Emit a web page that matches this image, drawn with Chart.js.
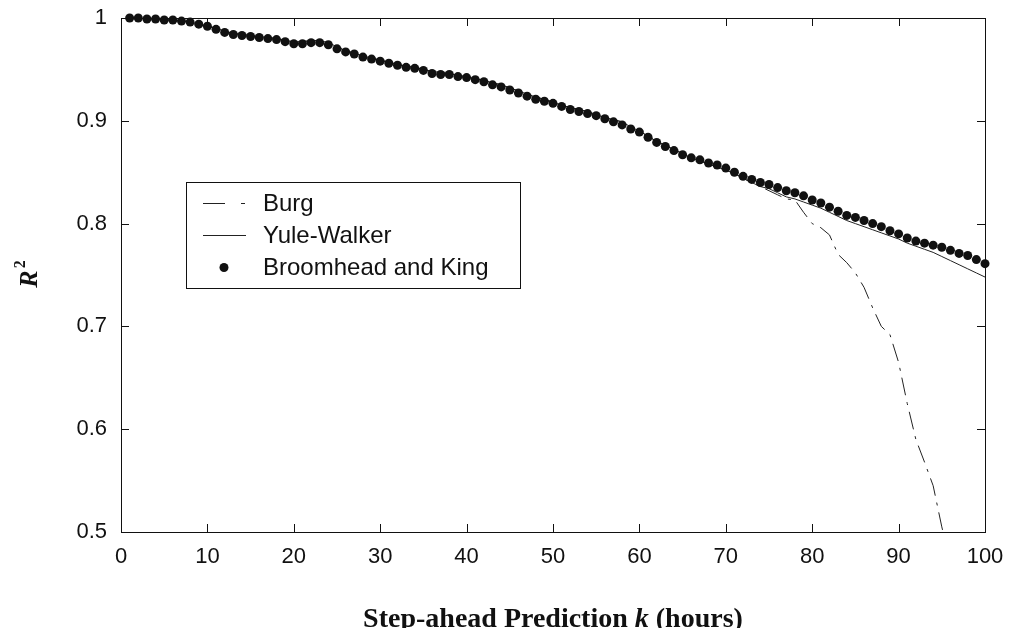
<!DOCTYPE html>
<html>
<head>
<meta charset="utf-8">
<script src="https://cdn.jsdelivr.net/npm/chart.js@4.4.0/dist/chart.umd.min.js"></script>
<style>
  html, body { margin: 0; padding: 0; background: #fff; }
  #wrap { width: 1013px; height: 628px; }
</style>
</head>
<body>
<div id="wrap"><canvas id="myChart" width="1013" height="628"></canvas></div>
<script>
// prediction step k (hours)
var steps = [
  1, 2, 3, 4, 5, 6, 7, 8, 9, 10,
  11, 12, 13, 14, 15, 16, 17, 18, 19, 20,
  21, 22, 23, 24, 25, 26, 27, 28, 29, 30,
  31, 32, 33, 34, 35, 36, 37, 38, 39, 40,
  41, 42, 43, 44, 45, 46, 47, 48, 49, 50,
  51, 52, 53, 54, 55, 56, 57, 58, 59, 60,
  61, 62, 63, 64, 65, 66, 67, 68, 69, 70,
  71, 72, 73, 74, 75, 76, 77, 78, 79, 80,
  81, 82, 83, 84, 85, 86, 87, 88, 89, 90,
  91, 92, 93, 94, 95, 96, 97, 98, 99, 100
];

// R^2 for the three estimators
var broomheadKing = [
  1.000, 1.000, 0.999, 0.999, 0.998, 0.998, 0.997, 0.996, 0.994, 0.992,
  0.989, 0.986, 0.984, 0.983, 0.982, 0.981, 0.980, 0.979, 0.977, 0.975,
  0.975, 0.976, 0.976, 0.974, 0.970, 0.967, 0.965, 0.962, 0.960, 0.958,
  0.956, 0.954, 0.952, 0.951, 0.949, 0.946, 0.945, 0.945, 0.943, 0.942,
  0.940, 0.938, 0.935, 0.933, 0.930, 0.927, 0.924, 0.921, 0.919, 0.917,
  0.914, 0.911, 0.909, 0.907, 0.905, 0.902, 0.899, 0.896, 0.892, 0.889,
  0.884, 0.879, 0.875, 0.871, 0.867, 0.864, 0.862, 0.859, 0.857, 0.854,
  0.850, 0.846, 0.843, 0.840, 0.838, 0.835, 0.832, 0.830, 0.827, 0.823,
  0.820, 0.816, 0.812, 0.808, 0.806, 0.803, 0.800, 0.797, 0.793, 0.790,
  0.786, 0.783, 0.781, 0.779, 0.777, 0.774, 0.771, 0.769, 0.765, 0.761
];

var yuleWalker = [
  1.000, 1.000, 0.999, 0.999, 0.998, 0.998, 0.997, 0.996, 0.994, 0.992,
  0.990, 0.987, 0.985, 0.984, 0.983, 0.982, 0.981, 0.980, 0.978, 0.977,
  0.977, 0.978, 0.978, 0.976, 0.972, 0.968, 0.966, 0.963, 0.961, 0.959,
  0.957, 0.955, 0.953, 0.952, 0.950, 0.948, 0.947, 0.946, 0.944, 0.943,
  0.941, 0.939, 0.937, 0.935, 0.932, 0.929, 0.926, 0.923, 0.921, 0.918,
  0.915, 0.913, 0.911, 0.909, 0.906, 0.903, 0.901, 0.899, 0.894, 0.890,
  0.885, 0.880, 0.876, 0.872, 0.868, 0.864, 0.861, 0.858, 0.855, 0.852,
  0.849, 0.844, 0.840, 0.836, 0.834, 0.830, 0.826, 0.824, 0.821, 0.818,
  0.815, 0.811, 0.807, 0.803, 0.800, 0.797, 0.794, 0.791, 0.788, 0.785,
  0.781, 0.778, 0.775, 0.772, 0.768, 0.764, 0.760, 0.756, 0.752, 0.748
];

var burg = [
  1.000, 1.000, 0.999, 0.999, 0.998, 0.998, 0.997, 0.996, 0.994, 0.992,
  0.990, 0.987, 0.985, 0.984, 0.983, 0.982, 0.981, 0.980, 0.978, 0.977,
  0.977, 0.978, 0.978, 0.976, 0.972, 0.968, 0.966, 0.963, 0.961, 0.959,
  0.957, 0.955, 0.953, 0.952, 0.950, 0.948, 0.947, 0.946, 0.944, 0.943,
  0.941, 0.939, 0.937, 0.935, 0.932, 0.929, 0.926, 0.923, 0.921, 0.918,
  0.915, 0.913, 0.911, 0.909, 0.906, 0.903, 0.901, 0.899, 0.894, 0.890,
  0.885, 0.880, 0.876, 0.872, 0.868, 0.864, 0.861, 0.858, 0.855, 0.852,
  0.849, 0.844, 0.840, 0.836, 0.832, 0.828, 0.824, 0.823, 0.811, 0.800,
  0.796, 0.789, 0.770, 0.762, 0.752, 0.738, 0.718, 0.700, 0.692, 0.665,
  0.625, 0.590, 0.568, 0.545, 0.505, 0.470, null, null, null, null
];

var xTicks = [0, 10, 20, 30, 40, 50, 60, 70, 80, 90, 100];
var yTicks = [0.5, 0.6, 0.7, 0.8, 0.9, 1];

var seriesNames = ['Burg', 'Yule-Walker', 'Broomhead and King'];

function points(values) {
  return steps.map(function (k, i) { return { x: k, y: values[i] }; });
}

var tickFont = { family: '"Liberation Sans", Arial, Helvetica, sans-serif', size: 22 };
var serif = '"Liberation Serif", "Times New Roman", serif';

// box round the axes with ticks pointing inwards on all four sides
var boxTicks = {
  id: 'boxTicks',
  afterDatasetsDraw: function (chart) {
    var ctx = chart.ctx, a = chart.chartArea;
    var xs = chart.scales.x, ys = chart.scales.y;
    var len = 8;
    ctx.save();
    ctx.strokeStyle = '#111';
    ctx.lineWidth = 1;
    ctx.strokeRect(Math.round(a.left) + 0.5, Math.round(a.top) + 0.5,
      Math.round(a.right - a.left), Math.round(a.bottom - a.top));
    ctx.beginPath();
    xTicks.forEach(function (v) {
      var px = Math.round(xs.getPixelForValue(v)) + 0.5;
      ctx.moveTo(px, a.bottom); ctx.lineTo(px, a.bottom - len);
      ctx.moveTo(px, a.top); ctx.lineTo(px, a.top + len);
    });
    yTicks.forEach(function (v) {
      var py = Math.round(ys.getPixelForValue(v)) + 0.5;
      ctx.moveTo(a.left, py); ctx.lineTo(a.left + len, py);
      ctx.moveTo(a.right, py); ctx.lineTo(a.right - len, py);
    });
    ctx.stroke();
    ctx.restore();
  }
};

// legend box inside the plot, upper left
var innerLegend = {
  id: 'innerLegend',
  afterDraw: function (chart) {
    var ctx = chart.ctx;
    var left = 186, top = 182, w = 334, h = 106, row = 32;
    ctx.save();
    ctx.fillStyle = '#fff';
    ctx.fillRect(left, top, w, h);
    ctx.strokeStyle = '#111';
    ctx.lineWidth = 1;
    ctx.strokeRect(left + 0.5, top + 0.5, w, h);
    ctx.font = '24px "Liberation Sans", Arial, Helvetica, sans-serif';
    ctx.textBaseline = 'middle';
    chart.data.datasets.slice().sort(function (p, q) { return p.legendRank - q.legendRank; })
      .forEach(function (ds, i) {
        var cy = top + 21 + i * row + 0.5;
        ctx.strokeStyle = '#222';
        ctx.lineWidth = 1;
        if (ds.showLine !== false) {
          ctx.setLineDash(ds.legendDash || []);
          ctx.beginPath();
          ctx.moveTo(203, cy); ctx.lineTo(246, cy);
          ctx.stroke();
          ctx.setLineDash([]);
        } else {
          ctx.beginPath();
          ctx.arc(224, cy, ds.pointRadius, 0, Math.PI * 2);
          ctx.fillStyle = '#111';
          ctx.fill();
        }
        ctx.fillStyle = '#111';
        ctx.fillText(ds.label, 263, cy + 1);
      });
    ctx.restore();
  }
};

// axis titles: R^2 and the step-ahead caption, with italic symbols
var axisTitles = {
  id: 'axisTitles',
  afterDraw: function (chart) {
    var ctx = chart.ctx, a = chart.chartArea;
    ctx.save();
    ctx.fillStyle = '#111';
    ctx.textBaseline = 'alphabetic';

    var parts = [
      ['bold 28px ' + serif, 'Step-ahead Prediction '],
      ['bold italic 28px ' + serif, 'k'],
      ['bold 28px ' + serif, ' (hours)']
    ];
    var total = 0;
    parts.forEach(function (p) { ctx.font = p[0]; total += ctx.measureText(p[1]).width; });
    var x = (a.left + a.right) / 2 - total / 2;
    parts.forEach(function (p) {
      ctx.font = p[0];
      ctx.fillText(p[1], x, 627);
      x += ctx.measureText(p[1]).width;
    });

    ctx.translate(37, (a.top + a.bottom) / 2);
    ctx.rotate(-Math.PI / 2);
    ctx.font = 'bold italic 26px ' + serif;
    var rw = ctx.measureText('R').width;
    ctx.fillText('R', -rw / 2 - 4, 0);
    ctx.font = 'bold 16px ' + serif;
    ctx.fillText('2', rw / 2 - 2, -12);
    ctx.restore();
  }
};

var ctx = document.getElementById('myChart');
var chart = new Chart(ctx, {
  type: 'line',
  data: {
    datasets: [
      {
        label: seriesNames[2],
        data: points(broomheadKing),
        showLine: false,
        pointRadius: 4.5,
        pointBackgroundColor: '#111',
        pointBorderColor: '#111',
        pointBorderWidth: 0,
        clip: false,
        order: 0,
        legendRank: 2
      },
      {
        label: seriesNames[1],
        data: points(yuleWalker),
        borderColor: '#222',
        borderWidth: 1,
        pointRadius: 0,
        tension: 0,
        order: 1,
        legendRank: 1
      },
      {
        label: seriesNames[0],
        data: points(burg),
        borderColor: '#222',
        borderWidth: 1,
        borderDash: [18, 7, 3, 7],
        legendDash: [22, 16, 4, 16],
        pointRadius: 0,
        tension: 0,
        spanGaps: false,
        order: 2,
        legendRank: 0
      }
    ]
  },
  options: {
    responsive: false,
    animation: false,
    devicePixelRatio: 1,
    layout: { padding: { top: 18, right: 28, left: 0, bottom: 0 } },
    plugins: {
      legend: { display: false },
      tooltip: { enabled: false }
    },
    scales: {
      x: {
        type: 'linear',
        min: 0,
        max: 100,
        afterBuildTicks: function (scale) {
          scale.ticks = xTicks.map(function (v) { return { value: v }; });
        },
        afterFit: function (scale) {
          scale.height = 96;
          scale.paddingLeft = 0;
          scale.paddingRight = 0;
        },
        grid: { display: false, drawTicks: false },
        border: { display: false },
        ticks: { color: '#111', font: tickFont, padding: 12, maxRotation: 0 }
      },
      y: {
        min: 0.5,
        max: 1,
        afterBuildTicks: function (scale) {
          scale.ticks = yTicks.map(function (v) { return { value: v }; });
        },
        afterFit: function (scale) {
          scale.width = 121;
          scale.paddingTop = 0;
          scale.paddingBottom = 0;
        },
        grid: { display: false, drawTicks: false },
        border: { display: false },
        ticks: {
          color: '#111',
          font: tickFont,
          padding: 14,
          callback: function (v) { return v === 1 ? '1' : v.toFixed(1); }
        }
      }
    }
  },
  plugins: [boxTicks, innerLegend, axisTitles]
});
</script>
</body>
</html>
